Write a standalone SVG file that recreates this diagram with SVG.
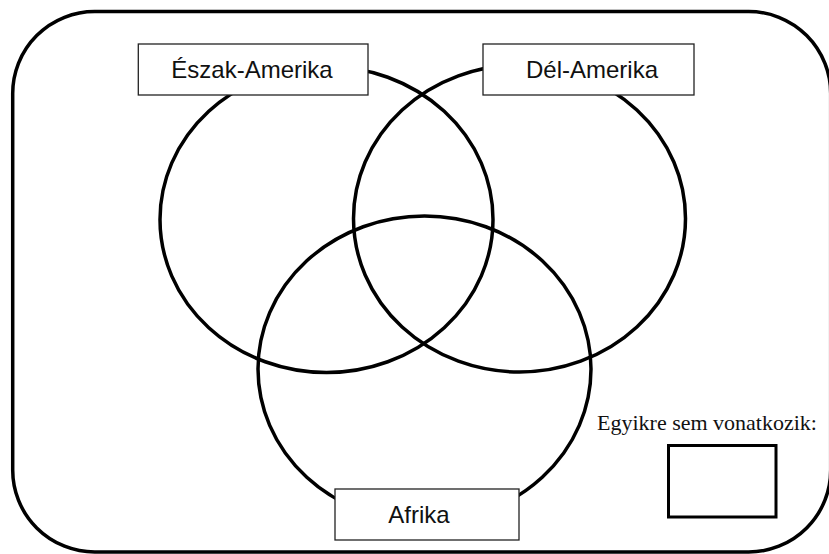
<svg xmlns="http://www.w3.org/2000/svg" width="829" height="554" viewBox="0 0 829 554">
<style>
.set{fill:none;stroke:#000;stroke-width:3.5}
.lbl{fill:#fff;stroke:#222;stroke-width:1.3}
.t{font-family:"Liberation Sans",Arial,sans-serif;font-size:24px;fill:#111;text-anchor:middle}
.s{font-family:"Liberation Serif","Times New Roman",serif;font-size:22px;fill:#111}
</style>
<rect width="829" height="554" fill="#fff"/>
<g id="universe">
<rect x="12.7" y="11.5" width="818" height="540.5" rx="82" ry="82" fill="none" stroke="#000" stroke-width="3.5"/>
</g>
<g id="circles">
<ellipse id="c-north" class="set" cx="326.5" cy="219.5" rx="166.5" ry="153"/>
<ellipse id="c-south" class="set" cx="519.5" cy="218.5" rx="166" ry="153.5"/>
<ellipse id="c-africa" class="set" cx="424.5" cy="369" rx="166.5" ry="153"/>
</g>
<g id="label-north">
<rect class="lbl" x="138.3" y="44" width="229.7" height="51"/>
<text class="t" x="252" y="78.3">Észak-Amerika</text>
</g>
<g id="label-south">
<rect class="lbl" x="483" y="44" width="211" height="51"/>
<text class="t" x="592" y="78.3">Dél-Amerika</text>
</g>
<g id="label-africa">
<rect class="lbl" x="335" y="489" width="184" height="51"/>
<text class="t" x="419" y="523">Afrika</text>
</g>
<g id="none">
<text class="s" x="597" y="430">Egyikre sem vonatkozik:</text>
<rect x="668.5" y="445.5" width="107.5" height="71.5" fill="none" stroke="#000" stroke-width="3"/>
</g>
</svg>
